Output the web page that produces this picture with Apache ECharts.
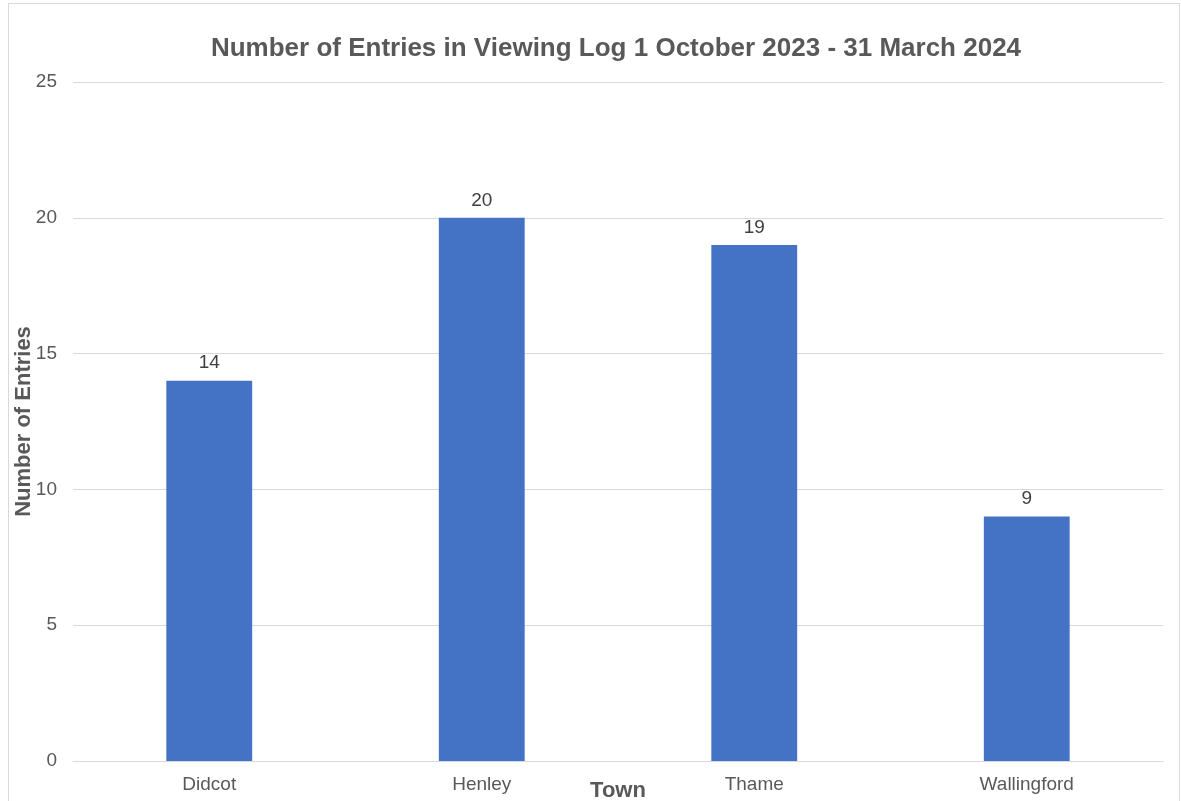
<!DOCTYPE html>
<html>
<head>
<meta charset="utf-8">
<script src="https://cdn.jsdelivr.net/npm/echarts@6/dist/echarts.min.js"></script>
<style>
  html, body { margin: 0; padding: 0; background: #ffffff; }
  #frame { position: absolute; left: 8px; top: 3px; width: 1172px; height: 810px; border: 1px solid #d9d9d9; box-sizing: border-box; }
  #chart { position: absolute; left: 0; top: 0; width: 1181px; height: 801px; }
</style>
</head>
<body>
<div id="frame"></div>
<div id="chart"></div>
<script>
// Viewing log entries per town
const towns = ['Didcot', 'Henley', 'Thame', 'Wallingford'];
const entries = [14, 20, 19, 9];
const yTicks = { min: 0, max: 25, interval: 5 };

const chart = echarts.init(document.getElementById('chart'), null, { renderer: 'canvas' });
const font = 'Liberation Sans, Arial, sans-serif';

chart.setOption({
  animation: false,
  backgroundColor: 'transparent',
  title: {
    text: 'Number of Entries in Viewing Log 1 October 2023 - 31 March 2024',
    left: 611,
    top: 31,
    textAlign: 'center',
    textStyle: { fontFamily: font, fontSize: 26, fontWeight: 'bold', color: '#595959' }
  },
  grid: { left: 73, right: 18, top: 82, bottom: 40, containLabel: false, outerBoundsMode: 'none' },
  xAxis: {
    type: 'category',
    data: towns,
    name: 'Town',
    nameLocation: 'middle',
    nameGap: 19,
    nameMoveOverlap: false,
    nameTextStyle: { fontFamily: font, fontSize: 22, fontWeight: 'bold', color: '#595959' },
    axisLine: { show: true, lineStyle: { color: '#d9d9d9', width: 1 } },
    axisTick: { show: false },
    axisLabel: { fontFamily: font, fontSize: 19, color: '#595959', margin: 14 }
  },
  yAxis: {
    type: 'value',
    min: yTicks.min,
    max: yTicks.max,
    interval: yTicks.interval,
    name: 'Number of Entries',
    nameLocation: 'middle',
    nameGap: 38,
    nameMoveOverlap: false,
    nameRotate: 90,
    nameTextStyle: { fontFamily: font, fontSize: 22, fontWeight: 'bold', color: '#595959' },
    axisLine: { show: false },
    axisTick: { show: false },
    axisLabel: { fontFamily: font, fontSize: 19, color: '#595959', margin: 16 },
    splitLine: { lineStyle: { color: '#d9d9d9', width: 1 } }
  },
  series: [{
    type: 'bar',
    data: entries,
    barWidth: '31.5%',
    itemStyle: { color: '#4472c4' },
    label: {
      show: true,
      position: 'top',
      distance: 8,
      fontFamily: font,
      fontSize: 19,
      color: '#404040'
    }
  }]
});
</script>
</body>
</html>
